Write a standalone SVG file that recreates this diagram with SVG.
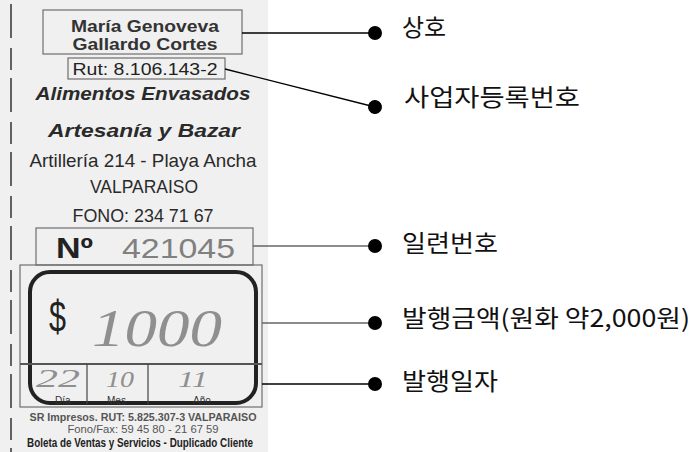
<svg xmlns="http://www.w3.org/2000/svg" width="694" height="452" viewBox="0 0 694 452">
<defs>
<marker id="dot" markerUnits="userSpaceOnUse" markerWidth="16" markerHeight="16" refX="8" refY="8" orient="auto">
<circle cx="8" cy="8" r="7" fill="#000"/>
</marker>
<style>
.sans{font-family:"Liberation Sans",Arial,sans-serif}
.ko{font-family:"Noto Sans CJK KR",sans-serif;font-size:24px;fill:#111}
.frame{fill:none;stroke:#6e6e6e;stroke-width:1.2}
.hand{font-family:"Liberation Serif","Times New Roman",serif;font-style:italic;fill:#8f8f8f}
.conn{fill:none;stroke-width:1.3;marker-end:url(#dot)}
</style>
</defs>
<rect x="0" y="0" width="694" height="452" fill="#fff"/>
<g id="receipt">
<rect x="0" y="0" width="268" height="452" fill="#f0f0f0"/>
<line x1="11" y1="4" x2="11" y2="452" stroke="#333" stroke-width="1.5" stroke-dasharray="34 10 22 8"/>
</g>
<g id="name">
<rect class="frame" x="43" y="10" width="199" height="44"/>
<text class="sans" x="145" y="32" font-size="17" font-weight="bold" fill="#333" text-anchor="middle" textLength="148" lengthAdjust="spacingAndGlyphs">María Genoveva</text>
<text class="sans" x="145" y="50" font-size="17" font-weight="bold" fill="#333" text-anchor="middle" textLength="145" lengthAdjust="spacingAndGlyphs">Gallardo Cortes</text>
</g>
<g id="rut">
<rect class="frame" x="68" y="58" width="157" height="21"/>
<text class="sans" x="145" y="75" font-size="16" fill="#222" text-anchor="middle" textLength="145" lengthAdjust="spacingAndGlyphs">Rut: 8.106.143-2</text>
</g>
<g id="business">
<text class="sans" x="143" y="100" font-size="18" font-weight="bold" font-style="italic" fill="#2a2a2a" text-anchor="middle" textLength="215" lengthAdjust="spacingAndGlyphs">Alimentos Envasados</text>
<text class="sans" x="144" y="137" font-size="18" font-weight="bold" font-style="italic" fill="#2a2a2a" text-anchor="middle" textLength="192" lengthAdjust="spacingAndGlyphs">Artesanía y Bazar</text>
<text class="sans" x="143" y="167" font-size="19" fill="#2a2a2a" text-anchor="middle" textLength="227" lengthAdjust="spacingAndGlyphs">Artillería 214 - Playa Ancha</text>
<text class="sans" x="144" y="193" font-size="19" fill="#2a2a2a" text-anchor="middle" textLength="108" lengthAdjust="spacingAndGlyphs">VALPARAISO</text>
<text class="sans" x="143" y="222" font-size="19" fill="#2a2a2a" text-anchor="middle" textLength="141" lengthAdjust="spacingAndGlyphs">FONO: 234 71 67</text>
</g>
<g id="serial">
<rect class="frame" x="36" y="228" width="217" height="37"/>
<text class="sans" x="56" y="258" font-size="29" font-weight="bold" fill="#222" textLength="37" lengthAdjust="spacingAndGlyphs">Nº</text>
<text class="sans" x="122" y="258" font-size="27" fill="#808080" textLength="113" lengthAdjust="spacingAndGlyphs">421045</text>
</g>
<g id="amount">
<rect class="frame" x="20" y="265" width="242" height="142"/>
<rect x="30" y="272" width="226" height="131" rx="20" fill="none" stroke="#222" stroke-width="4"/>
<line x1="20" y1="364" x2="262" y2="364" stroke="#555" stroke-width="2"/>
<line x1="87" y1="364" x2="87" y2="404" stroke="#444" stroke-width="1.2"/>
<line x1="148" y1="364" x2="148" y2="404" stroke="#444" stroke-width="1.2"/>
<text class="sans" x="49" y="332" font-size="44" fill="#222" textLength="17" lengthAdjust="spacingAndGlyphs">$</text>
<text class="hand" x="92" y="346" font-size="52" textLength="130" lengthAdjust="spacingAndGlyphs">1000</text>
</g>
<g id="date">
<text class="hand" x="36" y="387" font-size="25" textLength="44" lengthAdjust="spacingAndGlyphs">22</text>
<text class="hand" x="106" y="387" font-size="24" textLength="28" lengthAdjust="spacingAndGlyphs">10</text>
<text class="hand" x="178" y="387" font-size="24" textLength="30" lengthAdjust="spacingAndGlyphs">11</text>
<text class="sans" x="55" y="404" font-size="10" fill="#333">Día</text>
<text class="sans" x="107" y="404" font-size="10" fill="#333">Mes</text>
<text class="sans" x="193" y="404" font-size="10" fill="#333">Año</text>
</g>
<g id="printer">
<text class="sans" x="143" y="421" font-size="11" font-weight="bold" fill="#555" text-anchor="middle" textLength="227" lengthAdjust="spacingAndGlyphs">SR Impresos. RUT: 5.825.307-3  VALPARAISO</text>
<text class="sans" x="143" y="433" font-size="11" fill="#555" text-anchor="middle" textLength="151" lengthAdjust="spacingAndGlyphs">Fono/Fax:  59 45 80 - 21 67 59</text>
<text class="sans" x="140" y="447" font-size="12" font-weight="bold" fill="#222" text-anchor="middle" textLength="226" lengthAdjust="spacingAndGlyphs">Boleta de Ventas y Servicios - Duplicado Cliente</text>
</g>
<g id="connectors">
<line class="conn" x1="242" y1="33" x2="375" y2="33" stroke="#000"/>
<line class="conn" x1="225" y1="69" x2="375" y2="107" stroke="#000"/>
<line class="conn" x1="253" y1="246" x2="375" y2="246" stroke="#666"/>
<line class="conn" x1="262" y1="323" x2="375" y2="323" stroke="#666"/>
<line class="conn" x1="262" y1="384" x2="375" y2="384" stroke="#000"/>
</g>
<g id="label-sangho"><text class="ko" x="402" y="36">상호</text></g>
<g id="label-bizno"><text class="ko" x="404" y="106" textLength="176" lengthAdjust="spacingAndGlyphs">사업자등록번호</text></g>
<g id="label-serial"><text class="ko" x="402" y="252" textLength="96" lengthAdjust="spacingAndGlyphs">일련번호</text></g>
<g id="label-amount"><text class="ko" x="402" y="327" textLength="288" lengthAdjust="spacingAndGlyphs">발행금액(원화  약2,000원)</text></g>
<g id="label-date"><text class="ko" x="402" y="390" textLength="96" lengthAdjust="spacingAndGlyphs">발행일자</text></g>
</svg>
